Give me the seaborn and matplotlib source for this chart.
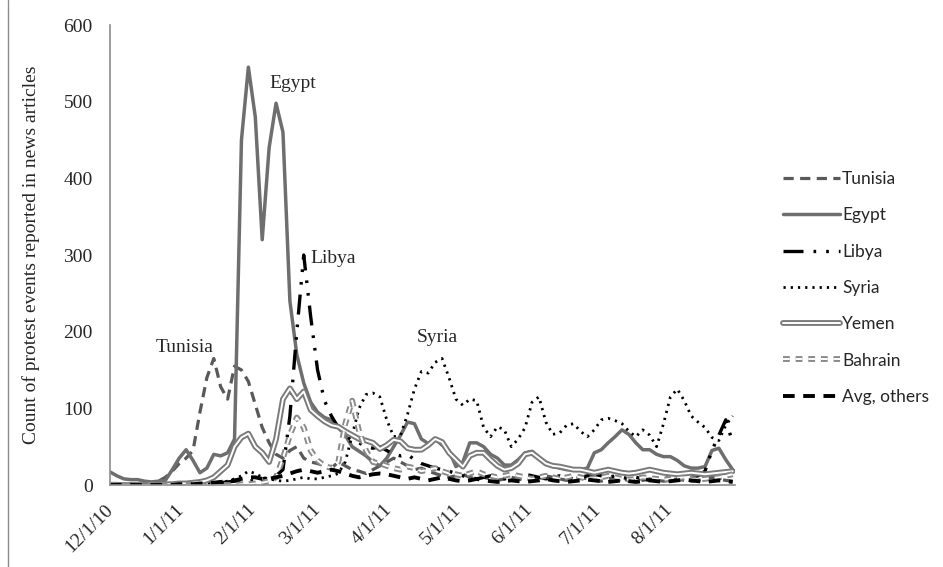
import matplotlib
matplotlib.use("Agg")
import matplotlib.pyplot as plt
import matplotlib.dates as mdates
import matplotlib.patheffects as pe
import seaborn as sns
import pandas as pd

# 3-day samples from 12/1/10
dates = pd.date_range("2010-12-01", periods=91, freq="3D")

tunisia = [2, 2, 1, 1, 2, 2, 3, 5,
           10, 18, 28, 35, 45, 95, 140, 165, 128, 112,
           155, 150, 135, 105, 75, 55, 40, 35, 45, 50,
           35, 30, 28, 25, 22, 30, 25, 20, 18, 15,
           20, 25, 30, 35, 30, 25, 20, 22, 18, 15,
           12, 10, 12, 14, 10, 8, 10, 8, 6, 8,
           10, 8, 6, 8, 10, 12, 10, 8, 6, 8,
           10, 8, 6, 5, 8, 10, 8, 6, 5, 6,
           8, 6, 5, 6, 8, 6, 5, 6, 8, 10,
           8, 6, 5]
egypt = [17, 12, 8, 7, 7, 5, 4, 5, 6, 20,
         35, 46, 32, 16, 22, 40, 38, 42, 60, 450,
         545, 480, 320, 440, 498, 460, 240, 170, 133, 108,
         95, 88, 85, 76, 65, 50, 44, 38, 30, 25,
         35, 50, 65, 82, 80, 60, 54, 60, 52, 45,
         24, 30, 55, 55, 50, 40, 35, 26, 26, 33,
         42, 44, 35, 30, 25, 22, 20, 20, 20, 22,
         42, 46, 55, 63, 72, 66, 55, 46, 46, 40,
         37, 37, 32, 25, 22, 22, 24, 45, 48, 33, 20]
libya = [0, 0, 0, 0, 0, 0, 0, 0, 1, 1, 1, 2, 2, 2, 3, 3, 3, 4, 5, 5, 5, 6, 8, 10, 12,
         20, 90, 200, 300, 220, 150, 110, 90, 75, 65,
         58, 55, 50, 48, 50, 45, 40, 38, 40, 33,
         28, 25, 22, 20, 18, 15,
         12, 10, 8, 10, 12, 10, 8, 10, 12, 14,
         12, 10, 8, 10, 12, 10, 8, 10, 12, 14,
         12, 10, 12, 10, 8, 10, 8, 6, 8, 10,
         8, 6, 8, 10, 12,
         18, 45, 65, 85, 55]
syria = [0, 0, 0, 0, 0, 0, 0, 0, 0, 1, 1, 1, 2, 2, 3, 3, 4, 5, 8,
         12, 18, 15, 10, 8, 6, 5, 6, 8, 10,
         8, 8, 10, 12, 15, 30, 65, 100, 118, 120,
         115, 85, 63, 65, 92,
         125, 148, 146, 160, 165, 140, 112, 104, 112, 110,
         75, 63, 76, 72, 50, 60, 75, 108, 115, 82,
         66, 68, 78, 80, 70, 63, 72, 85, 87, 84,
         80, 70, 63, 72, 65, 50, 80, 115, 125, 110,
         90, 82, 75, 62, 58, 78, 90]
yemen = [0, 0, 0, 0, 0, 0, 0, 0, 1, 1, 2, 2, 3, 4, 6,
         10, 18, 26, 50, 62, 67, 50, 42, 30, 60,
         112, 126, 112, 122, 98, 90, 83, 78, 76, 70,
         65, 60, 58, 55, 47, 52, 59, 57, 48, 46,
         46, 52, 60, 56, 42, 33, 24, 38, 42, 42,
         33, 25, 20, 22, 28, 40, 42, 35, 28, 25,
         24, 22,
         20, 20, 18, 16, 18, 20, 18, 16, 15, 16, 18, 20,
         18, 16, 15, 14, 15, 16, 15, 14, 15, 16, 17, 18]
bahrain = [0, 0, 0, 0, 0, 0, 0, 0, 0, 0, 0, 0, 0, 0, 0, 0, 0, 0, 0, 1, 1,
           2, 3, 5, 10, 35, 65, 88, 75, 45, 32,
           25, 22, 30, 80, 110, 70, 45, 30, 28, 25,
           22, 20, 24, 22, 18, 20, 22, 18, 15,
           14, 12, 15, 18, 14, 12, 10, 12, 14, 12,
           10, 8, 10, 12, 10, 8, 10, 12, 10, 8,
           9, 10, 12, 10, 8, 7, 8, 10, 9, 8,
           7, 8, 9, 10, 8, 7, 8, 9, 10, 12, 14]
others = [0, 0, 0, 0, 0, 0, 0, 0, 0, 0, 1, 1, 1, 2, 2, 3,
          4, 5, 6, 8, 10, 10, 8, 8, 10, 12, 15, 18, 20, 18, 16,
          18, 20, 18, 15, 12, 10, 12, 14, 15, 14, 12, 10, 8, 10, 8,
          6, 8, 10, 8, 6, 5, 6, 8, 6, 5, 4, 5, 6, 5, 4, 5, 6, 8, 6, 5,
          4, 5, 6, 7, 6, 5, 4, 5, 6, 5, 4, 5, 6, 5, 4, 5, 6, 7, 6, 5,
          4, 5, 6, 5, 4]

sns.set_style("white")
plt.rcParams["font.family"] = ["Liberation Serif", "DejaVu Serif"]

fig = plt.figure(figsize=(9.43, 5.67), dpi=100)
ax = fig.add_axes([110 / 943, 1 - 485 / 567, 625 / 943, 460 / 567])

double = lambda c: [pe.Stroke(linewidth=4.2, foreground=c), pe.Stroke(linewidth=1.4, foreground="white")]

series = [
    ("Tunisia", tunisia, dict(color="#595959", lw=2.3, linestyle=(0, (3.2, 2)))),
    ("Egypt", egypt, dict(color="#6e6e6e", lw=2.5)),
    ("Libya", libya, dict(color="black", lw=2.4, linestyle=(0, (6, 3, 0.8, 3, 0.8, 3)))),
    ("Syria", syria, dict(color="black", lw=2.0, linestyle=(0, (0.8, 1.8)))),
    ("Yemen", yemen, dict(color="white", lw=1.4, path_effects=double("#7a7a7a"))),
    ("Bahrain", bahrain, dict(color="white", lw=1.4, linestyle=(0, (3.5, 3)), path_effects=double("#8a8a8a"))),
    ("Avg, others", others, dict(color="black", lw=2.8, linestyle=(0, (3, 2.2)))),
]
for name, vals, kw in series:
    sns.lineplot(x=dates, y=vals, ax=ax, label=name, **kw)

ax.set_ylim(0, 600)
ax.set_xlim(pd.Timestamp("2010-12-01"), pd.Timestamp("2011-08-29"))
ax.set_yticks(range(0, 601, 100))
ax.xaxis.set_major_locator(mdates.MonthLocator())
ax.xaxis.set_major_formatter(mdates.DateFormatter("%-m/%-d/%y"))
ax.tick_params(axis="y", length=0, pad=12.5, labelsize=14)
ax.tick_params(axis="x", length=0, pad=16, labelsize=14)
for lab in ax.get_xticklabels():
    lab.set_rotation(45)
    lab.set_ha("right")
    lab.set_va("center")
    lab.set_rotation_mode("anchor")
ax.set_ylabel("Count of protest events reported in news articles", fontsize=14, labelpad=17)
ax.set_xlabel("")
for s in ["top", "right"]:
    ax.spines[s].set_visible(False)
for s in ["left", "bottom"]:
    ax.spines[s].set_color("#8c8c8c")
    ax.spines[s].set_linewidth(1.2)

ax.text(pd.Timestamp("2011-02-08"), 524, "Egypt", fontsize=14, va="center")
ax.text(pd.Timestamp("2011-02-26"), 296, "Libya", fontsize=14, va="center")
ax.text(pd.Timestamp("2010-12-21"), 180, "Tunisia", fontsize=14, va="center")
ax.text(pd.Timestamp("2011-04-13"), 192, "Syria", fontsize=14, va="center")

handles, labels = ax.get_legend_handles_labels()
leg = ax.legend(handles, labels, loc="upper left", bbox_to_anchor=(783 / 943, 1 - 171 / 567),
                bbox_transform=fig.transFigure, frameon=False, borderpad=0, borderaxespad=0,
                handlelength=3.3, handletextpad=0.1, labelspacing=1.17,
                prop={"family": "Lato", "size": 12.5})

fig.add_artist(plt.Line2D([8 / 943, 8 / 943], [0, 1], transform=fig.transFigure, color="#8c8c8c", lw=1))

fig.savefig("out.png", dpi=100)
